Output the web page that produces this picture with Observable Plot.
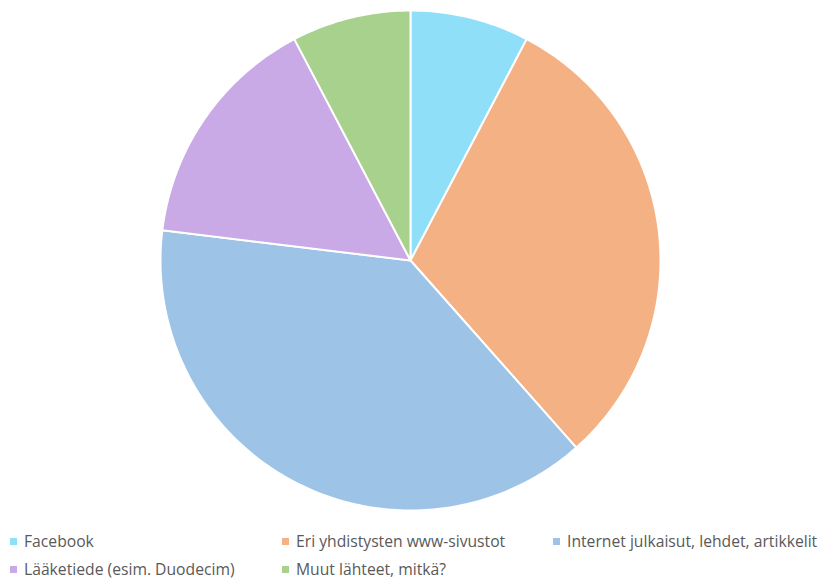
<!DOCTYPE html>
<html>
<head>
<meta charset="utf-8">
<script src="https://cdn.jsdelivr.net/npm/d3@7"></script>
<script src="https://cdn.jsdelivr.net/npm/@observablehq/plot@0.6"></script>
<style>
  body { margin: 0; background: #fff; font-family: "Open Sans", "Noto Sans", sans-serif; }
  #wrap { position: relative; width: 819px; height: 579px; }
  #legend { position: absolute; left: 0; top: 0; width: 819px; height: 579px; pointer-events: none; }
  .item { position: absolute; font-size: 15.7px; color: #595959; white-space: nowrap; line-height: 16px; }
  .sw { display: inline-block; width: 7px; height: 7px; margin-right: 7px; vertical-align: 2px; }
</style>
</head>
<body>
<div id="wrap"><div id="chart"></div><div id="legend"></div></div>
<script>
const categories = ["Facebook", "Eri yhdistysten www-sivustot", "Internet julkaisut, lehdet, artikkelit", "Lääketiede (esim. Duodecim)", "Muut lähteet, mitkä?"];
const values = [1, 4, 5, 2, 1];
const colors = ["#8fdff8", "#f4b183", "#9dc3e6", "#c9a9e6", "#a9d18e"];
const legendPos = [[10, 533], [282, 533], [553, 533], [10, 561], [282, 561]];

const data = categories.map((c, i) => ({name: c, value: values[i]}));
const arcs = d3.pie().value(d => d.value).sort(null)(data);
const pts = [];
for (const a of arcs) {
  const n = Math.max(2, Math.ceil((a.endAngle - a.startAngle) * 60));
  pts.push({name: a.data.name, x: 0, y: 0});
  for (let k = 0; k <= n; k++) {
    const t = a.startAngle + (a.endAngle - a.startAngle) * k / n;
    pts.push({name: a.data.name, x: Math.sin(t), y: Math.cos(t)});
  }
  pts.push({name: a.data.name, x: 0, y: 0});
}

const plot = Plot.plot({
  width: 819, height: 522,
  marginLeft: 160, marginRight: 159, marginTop: 10, marginBottom: 12,
  x: {domain: [-1, 1], axis: null},
  y: {domain: [-1, 1], axis: null},
  color: {domain: categories, range: colors},
  marks: [
    Plot.line(pts, {x: "x", y: "y", z: "name", fill: "name", stroke: "#fff", strokeWidth: 2, strokeLinejoin: "round", curve: "linear"})
  ]
});
document.getElementById("chart").appendChild(plot);

const leg = document.getElementById("legend");
categories.forEach((c, i) => {
  const d = document.createElement("div");
  d.className = "item";
  d.style.left = legendPos[i][0] + "px";
  d.style.top = legendPos[i][1] + "px";
  d.innerHTML = `<span class="sw" style="background:${colors[i]}"></span>${c}`;
  leg.appendChild(d);
});
</script>
</body>
</html>
